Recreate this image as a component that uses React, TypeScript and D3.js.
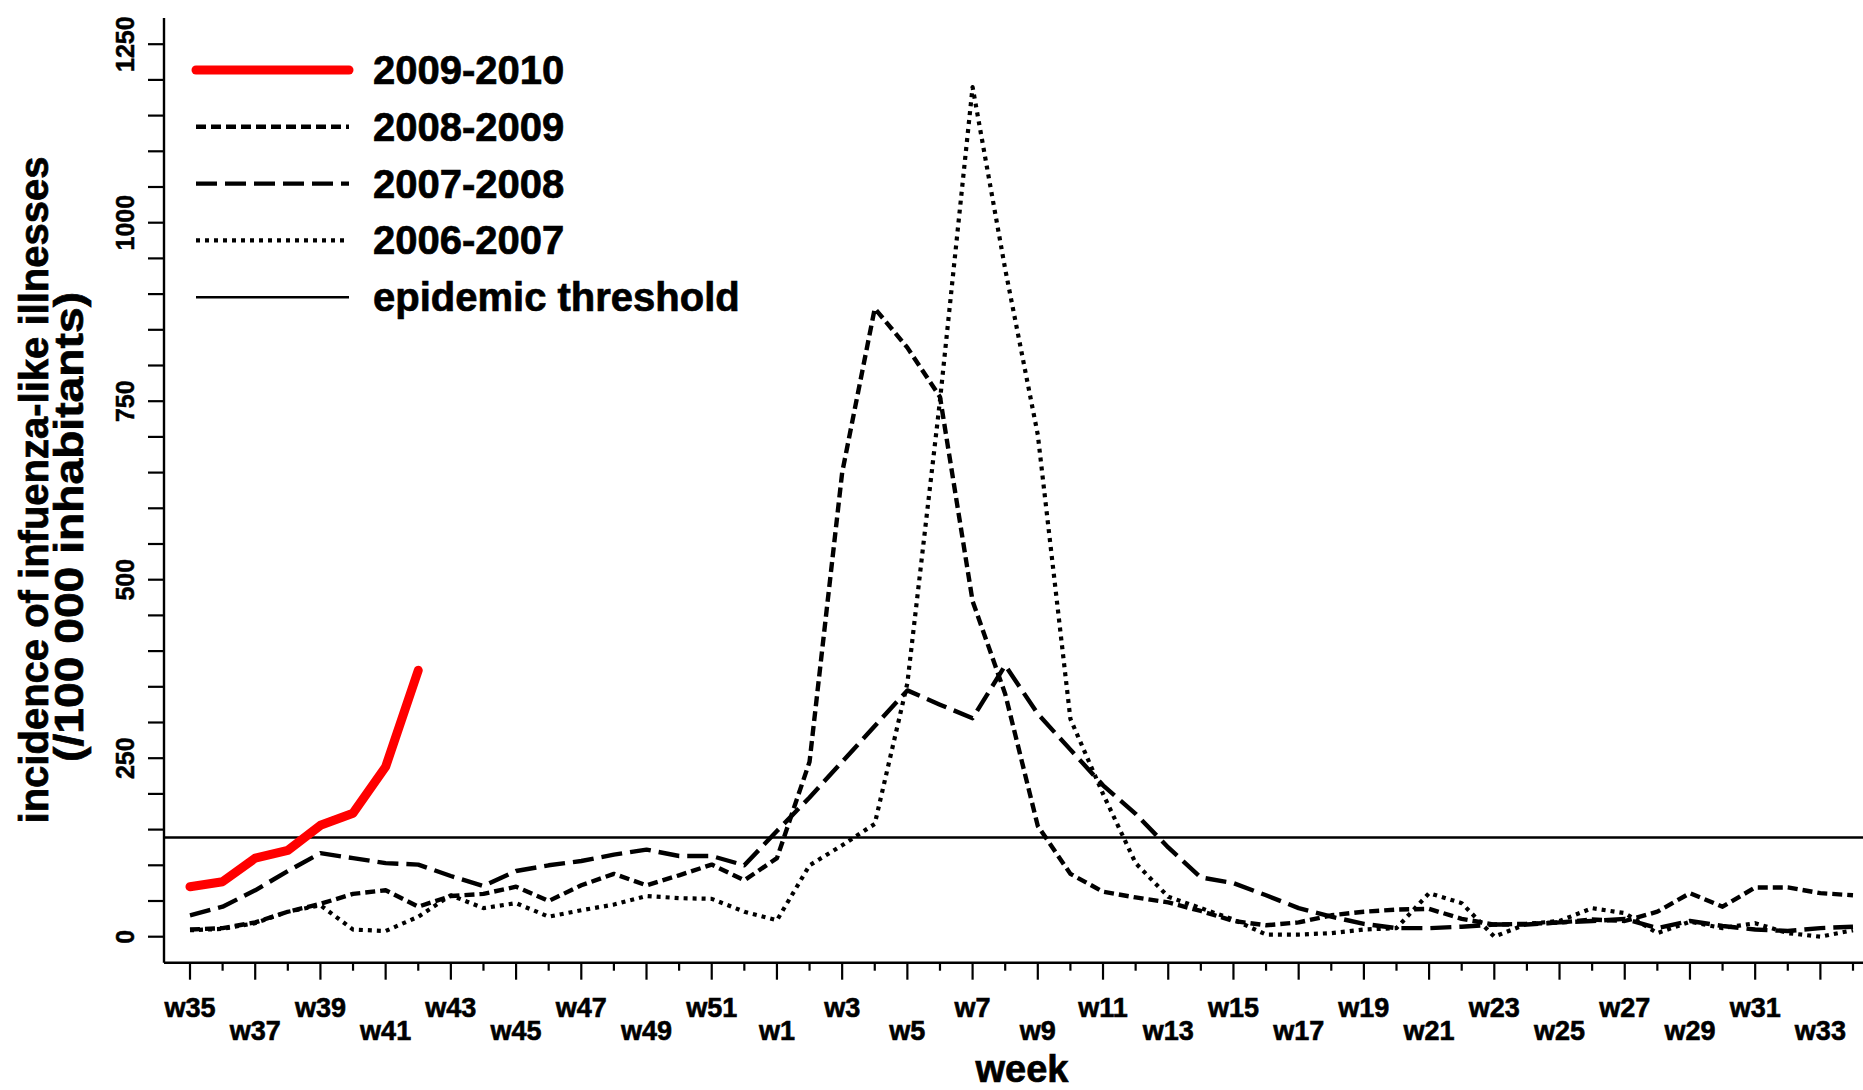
import React, { useEffect } from "react";
import * as d3 from "d3";

// Surveillance weeks, season runs from week 35 to week 34 of the next year
const weekLabels = [
  "w35", "w36", "w37", "w38", "w39", "w40", "w41", "w42", "w43", "w44",
  "w45", "w46", "w47", "w48", "w49", "w50", "w51", "w52", "w1", "w2",
  "w3", "w4", "w5", "w6", "w7", "w8", "w9", "w10", "w11", "w12",
  "w13", "w14", "w15", "w16", "w17", "w18", "w19", "w20", "w21", "w22",
  "w23", "w24", "w25", "w26", "w27", "w28", "w29", "w30", "w31", "w32",
  "w33", "w34",
];

// Weekly incidence per 100 000 inhabitants
const season2009_2010 = [70, 77, 110, 121, 156, 173, 238, 373];

const season2008_2009 = [
  10, 12, 20, 35, 46, 60, 65, 42, 57, 60,
  70, 50, 72, 88, 72, 86, 101, 79, 110, 245,
  650, 880, 825, 756, 470, 340, 155, 88, 63, 55,
  48, 36, 22, 16, 20, 30, 35, 38, 39, 25,
  17, 18, 20, 24, 22, 35, 61, 42, 69, 69,
  61, 58,
];

const season2007_2008 = [
  30, 42, 65, 92, 117, 110, 103, 101, 85, 71,
  92, 100, 106, 115, 122, 113, 113, 100, 148, 195,
  245, 295, 345, 325, 306, 380, 312, 262, 212, 172,
  125, 83, 75, 58, 40, 28, 18, 12, 12, 14,
  17, 17, 20, 22, 25, 12, 22, 15, 10, 8,
  12, 14,
];

const season2006_2007 = [
  9, 11, 19, 35, 44, 10, 8, 28, 58, 40,
  47, 28, 37, 45, 57, 54, 53, 35, 23, 100,
  128, 158, 355, 751, 1190, 935, 703, 305, 200, 103,
  56, 40, 24, 3, 3, 5, 10, 12, 61, 47,
  0, 18, 22, 40, 33, 5, 21, 12, 19, 5,
  0, 9,
];

const epidemicThreshold = 139;

const yMajorTicks = [0, 250, 500, 750, 1000, 1250];
const yMinorTicks = [
  50, 100, 150, 200, 300, 350, 400, 450, 550, 600, 650, 700,
  800, 850, 900, 950, 1050, 1100, 1150, 1200,
];

const legendLabels = ["2009-2010", "2008-2009", "2007-2008", "2006-2007", "epidemic threshold"];

const W = 1863;
const H = 1090;
const FONT = "'Liberation Sans', Arial, Helvetica, sans-serif";

const axisX = 164;
const axisY = 962.7;
const plotTop = 18;

const x = d3.scaleLinear().domain([0, weekLabels.length - 1]).range([190, 1853]);
const y = d3.scaleLinear().domain([0, 1250]).range([936.7, 44.2]);

const line = d3
  .line<number>()
  .x((_, i) => x(i))
  .y((d) => y(d));

type SeriesStyle = {
  label: string;
  values: number[];
  color: string;
  width: number;
  dash?: string;
  cap: "butt" | "round";
};

const series: SeriesStyle[] = [
  { label: legendLabels[3], values: season2006_2007, color: "#000", width: 4.2, dash: "4 5", cap: "butt" },
  { label: legendLabels[2], values: season2007_2008, color: "#000", width: 4.4, dash: "21 8", cap: "butt" },
  { label: legendLabels[1], values: season2008_2009, color: "#000", width: 4.4, dash: "10 5", cap: "butt" },
  { label: legendLabels[0], values: season2009_2010, color: "#ff0000", width: 9, cap: "round" },
];

// heavy bold text look
const heavy = { fontWeight: "bold" as const, stroke: "#000", strokeWidth: 0.7 };

export default function App() {
  useEffect(() => {
    document.body.style.margin = "0";
  }, []);

  const legendRows = [
    { label: legendLabels[0], color: "#ff0000", width: 9, dash: undefined, cap: "round" },
    { label: legendLabels[1], color: "#000", width: 4.4, dash: "10 5", cap: "butt" },
    { label: legendLabels[2], color: "#000", width: 4.4, dash: "21 8", cap: "butt" },
    { label: legendLabels[3], color: "#000", width: 4.2, dash: "4 5", cap: "butt" },
    { label: legendLabels[4], color: "#000", width: 2.6, dash: undefined, cap: "butt" },
  ];

  return (
    <svg width={W} height={H} style={{ display: "block", background: "#fff" }} fontFamily={FONT}>
      {/* epidemic threshold */}
      <line
        x1={axisX}
        x2={W}
        y1={y(epidemicThreshold)}
        y2={y(epidemicThreshold)}
        stroke="#000"
        strokeWidth={2.6}
      />

      {/* seasons */}
      {series.map((s) => (
        <path
          key={s.label}
          d={line(s.values) || ""}
          fill="none"
          stroke={s.color}
          strokeWidth={s.width}
          strokeDasharray={s.dash}
          strokeLinecap={s.cap}
          strokeLinejoin="round"
        />
      ))}

      {/* y axis */}
      <line x1={axisX} x2={axisX} y1={plotTop} y2={axisY} stroke="#000" strokeWidth={2.4} />
      {yMinorTicks.concat(yMajorTicks).map((t) => (
        <line key={"yt" + t} x1={axisX - 16} x2={axisX} y1={y(t)} y2={y(t)} stroke="#000" strokeWidth={2.2} />
      ))}
      {yMajorTicks.map((t) => (
        <text
          key={"yl" + t}
          transform={`translate(134,${y(t)}) rotate(-90)`}
          textAnchor="middle"
          fontSize={25}
          {...heavy}
          strokeWidth={0.5}
        >
          {t}
        </text>
      ))}

      {/* x axis */}
      <line x1={axisX} x2={W} y1={axisY} y2={axisY} stroke="#000" strokeWidth={2.4} />
      {weekLabels.map((w, i) => (
        <line
          key={"xt" + w}
          x1={x(i)}
          x2={x(i)}
          y1={axisY}
          y2={axisY + (i % 2 === 0 ? 17 : 8)}
          stroke="#000"
          strokeWidth={2.2}
        />
      ))}
      {weekLabels.map((w, i) =>
        i % 2 === 0 ? (
          <text
            key={"xl" + w}
            x={x(i)}
            y={(i / 2) % 2 === 0 ? 1017 : 1040}
            textAnchor="middle"
            fontSize={27}
            {...heavy}
            strokeWidth={0.6}
          >
            {w}
          </text>
        ) : null
      )}

      {/* axis titles */}
      <text x={1022} y={1082} textAnchor="middle" fontSize={38} {...heavy}>
        week
      </text>
      <text
        transform="translate(34,490) rotate(-90)"
        textAnchor="middle"
        dominantBaseline="central"
        fontSize={40}
        {...heavy}
      >
        incidence of infuenza-like illnesses
      </text>
      <text
        transform="translate(69,527) rotate(-90)"
        textAnchor="middle"
        dominantBaseline="central"
        fontSize={40}
        textLength={470}
        lengthAdjust="spacingAndGlyphs"
        {...heavy}
      >
        (/100 000 inhabitants)
      </text>

      {/* legend */}
      {legendRows.map((r, i) => {
        const cy = 70 + i * 56.8;
        return (
          <g key={"lg" + r.label}>
            <line
              x1={196}
              x2={349}
              y1={cy}
              y2={cy}
              stroke={r.color}
              strokeWidth={r.width}
              strokeDasharray={r.dash}
              strokeLinecap={r.cap as "butt" | "round"}
            />
            <text x={373} y={cy + 14} fontSize={40} {...heavy}>
              {r.label}
            </text>
          </g>
        );
      })}
    </svg>
  );
}
